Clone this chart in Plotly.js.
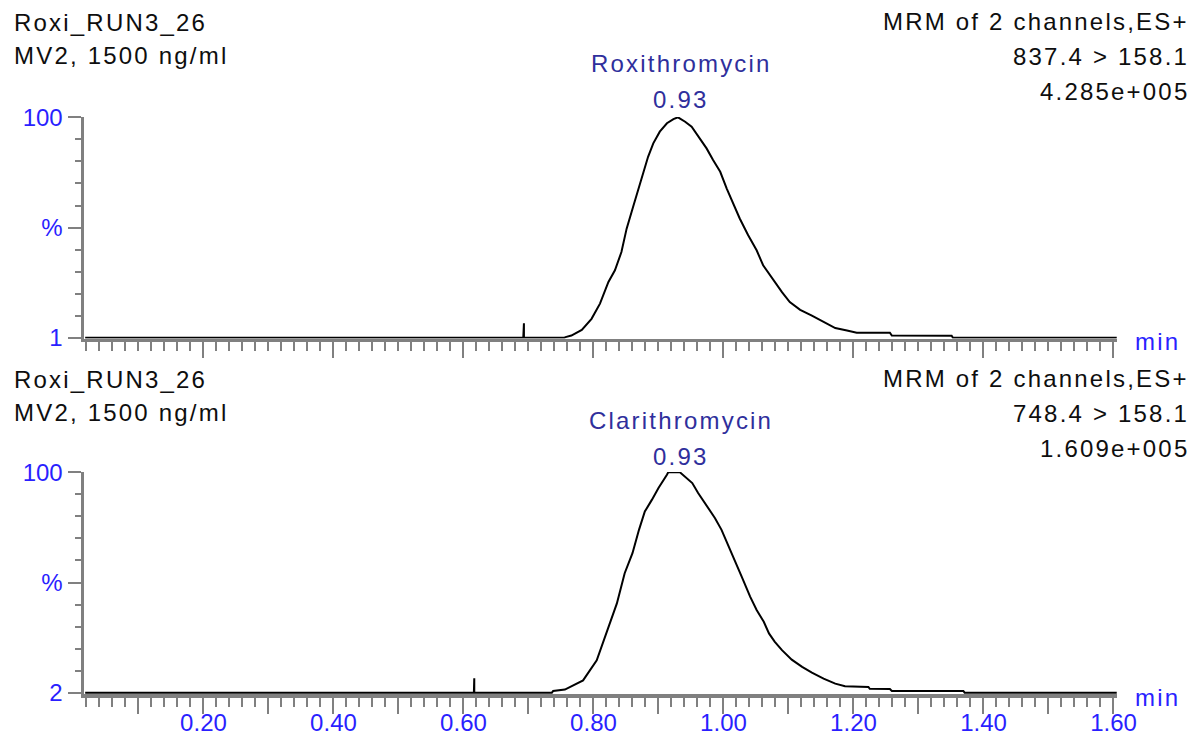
<!DOCTYPE html>
<html>
<head>
<meta charset="utf-8">
<script src="https://cdn.plot.ly/plotly-3.0.1.min.js"></script>
<style>
  html, body { margin: 0; padding: 0; background: #ffffff; }
  #chart { width: 1196px; height: 752px; }
  .annotation-text { letter-spacing: 2.2px; }
</style>
</head>
<body>
<div id="chart"></div>
<script>
// ---------- data ----------
// retention time, minutes
const roxiTime = [0.018, 0.692, 0.693, 0.693, 0.694, 0.755, 0.757, 0.766, 0.782, 0.797, 0.810, 0.823, 0.833, 0.843, 0.851, 0.861, 0.869, 0.877, 0.884, 0.892, 0.902, 0.913, 0.923, 0.930, 0.941, 0.951, 0.961, 0.974, 0.984, 0.995, 1.005, 1.015, 1.025, 1.038, 1.051, 1.061, 1.077, 1.090, 1.102, 1.118, 1.136, 1.154, 1.172, 1.190, 1.205, 1.256, 1.259, 1.351, 1.353, 1.605];
// relative intensity, %
const roxiIntensity = [0, 0, 6.6, 0, 0, 0, 0.3, 1.0, 3.6, 8.6, 15.5, 25.3, 30.6, 38.9, 49.5, 59.4, 67.7, 75.3, 82.1, 88.2, 93.5, 97.3, 99.2, 100, 98.0, 95.7, 91.2, 85.9, 80.6, 75.3, 67.7, 60.9, 54.1, 46.5, 39.7, 32.9, 26.0, 20.7, 16.2, 12.7, 10.1, 7.1, 4.4, 3.3, 2.3, 2.3, 1.0, 0.9, 0, 0];

const clariTime = [0.018, 0.616, 0.6166, 0.6166, 0.617, 0.736, 0.738, 0.756, 0.784, 0.805, 0.820, 0.836, 0.848, 0.860, 0.870, 0.879, 0.890, 0.900, 0.913, 0.915, 0.933, 0.952, 0.961, 0.975, 0.987, 0.997, 1.007, 1.018, 1.028, 1.041, 1.051, 1.062, 1.070, 1.079, 1.090, 1.105, 1.121, 1.136, 1.154, 1.172, 1.187, 1.223, 1.225, 1.256, 1.259, 1.369, 1.371, 1.605];
const clariIntensity = [0, 0, 6.5, 0, 0, 0, 0.8, 1.4, 5.6, 14.7, 27.6, 40.5, 54.2, 63.3, 73.9, 82.2, 87.6, 92.9, 98.9, 100, 100, 95.1, 90.6, 84.5, 79.2, 73.9, 67.1, 60.2, 52.7, 43.6, 37.5, 32.2, 26.9, 23.1, 19.3, 15.0, 11.7, 9.1, 6.4, 4.1, 2.9, 2.6, 1.8, 1.7, 0.8, 0.8, 0, 0];

// tick labels
const xTickVals = [0.1, 0.2, 0.3, 0.4, 0.5, 0.6, 0.7, 0.8, 0.9, 1.0, 1.1, 1.2, 1.3, 1.4, 1.5, 1.6];
const xTickText = ['', '0.20', '', '0.40', '', '0.60', '', '0.80', '', '1.00', '', '1.20', '', '1.40', '', '1.60'];
const yTickVals = [0, 50, 100];
const yTickTextTop = ['1', '%', '100'];
const yTickTextBottom = ['2', '%', '100'];
const xUnit = 'min';

// header texts
const sampleName = 'Roxi_RUN3_26';
const sampleDesc = 'MV2, 1500 ng/ml';
const scanFunction = 'MRM of 2 channels,ES+';
const roxiTransition = '837.4 > 158.1';
const roxiMaxIntensity = '4.285e+005';
const clariTransition = '748.4 > 158.1';
const clariMaxIntensity = '1.609e+005';
const roxiName = 'Roxithromycin';
const clariName = 'Clarithromycin';
const roxiRT = '0.93';
const clariRT = '0.93';

// ---------- layout helpers ----------
const M = {l: 84, r: 79, t: 117, b: 58};
const PW = 1196 - M.l - M.r, PH = 752 - M.t - M.b;
const pxX = p => (p - M.l) / PW;
const pxY = p => (752 - M.b - p) / PH;

const FONT = '"Liberation Sans", Arial, sans-serif';
const BLUE = '#2a1fff';
const NAVY = '#2f2f9c';
const DARK = '#0e0e0e';
const GREY = '#808080';

function txt(text, xp, yp, anchor, color) {
  return {
    text: text, xref: 'paper', yref: 'paper', x: pxX(xp), y: pxY(yp),
    xanchor: anchor, yanchor: 'middle', showarrow: false,
    font: {family: FONT, size: 24, color: color}
  };
}

const panelOffset = 357;
const annotations = [];
[[0, roxiTransition, roxiMaxIntensity, roxiName, roxiRT],
 [panelOffset, clariTransition, clariMaxIntensity, clariName, clariRT]].forEach(([o, tr, mx, nm, rt]) => {
  annotations.push(txt(sampleName, 12, 22.3 + o, 'left', DARK));
  annotations.push(txt(sampleDesc, 12, 55.3 + o, 'left', DARK));
  annotations.push(txt(scanFunction, 1191, 21.7 + o, 'right', DARK));
  annotations.push(txt(tr, 1191, 56.2 + o, 'right', DARK));
  annotations.push(txt(mx, 1191, 91.7 + o, 'right', DARK));
  annotations.push(txt(nm, 681, 63.5 + o, 'center', NAVY));
  annotations.push(txt(rt, 681, 99.5 + o, 'center', NAVY));
});
annotations.push(txt(xUnit, 1133, 341, 'left', BLUE));
annotations.push(txt(xUnit, 1133, 697, 'left', BLUE));

function xAxis(anchor, showLabels) {
  return {
    anchor: anchor, domain: [0, 1], range: [0.0162, 1.6054],
    showgrid: false, zeroline: false,
    showline: true, linecolor: GREY, linewidth: 3.5,
    tickmode: 'array', tickvals: xTickVals, ticktext: xTickText,
    ticks: 'outside', ticklen: 16, tickwidth: 2, tickcolor: GREY,
    minor: {tickmode: 'linear', tick0: 0, dtick: 0.02, ticks: 'outside', ticklen: 9, tickwidth: 2, tickcolor: GREY, showgrid: false},
    showticklabels: showLabels,
    ticklabelstandoff: -11,
    tickfont: {family: FONT, size: 24, color: BLUE},
    layer: 'below traces', fixedrange: true
  };
}
function yAxis(anchor, domain, range, labels) {
  return {
    anchor: anchor, domain: domain, range: range,
    showgrid: false, zeroline: false,
    showline: true, linecolor: GREY, linewidth: 3.5,
    tickmode: 'array', tickvals: yTickVals, ticktext: labels,
    ticks: 'outside', ticklen: 13, tickwidth: 2, tickcolor: GREY,
    minor: {tickmode: 'linear', tick0: 0, dtick: 10, ticks: 'outside', ticklen: 6, tickwidth: 2, tickcolor: GREY, showgrid: false},
    tickfont: {family: FONT, size: 24, color: BLUE},
    layer: 'below traces', fixedrange: true
  };
}

const traces = [
  {x: roxiTime, y: roxiIntensity, xaxis: 'x', yaxis: 'y', type: 'scatter', mode: 'lines',
   line: {color: '#000000', width: 2}, hoverinfo: 'skip', showlegend: false},
  {x: clariTime, y: clariIntensity, xaxis: 'x2', yaxis: 'y2', type: 'scatter', mode: 'lines',
   line: {color: '#000000', width: 2}, hoverinfo: 'skip', showlegend: false}
];

const layout = {
  width: 1196, height: 752,
  margin: M,
  paper_bgcolor: '#ffffff', plot_bgcolor: '#ffffff',
  showlegend: false,
  xaxis: xAxis('y', false),
  yaxis: yAxis('x', [pxY(338.5), 1], [-0.32, 100.14], yTickTextTop),
  xaxis2: xAxis('y2', true),
  yaxis2: yAxis('x2', [0, pxY(472)], [-0.59, 100.14], yTickTextBottom),
  annotations: annotations
};

Plotly.newPlot('chart', traces, layout, {staticPlot: true, displayModeBar: false});
</script>
</body>
</html>
